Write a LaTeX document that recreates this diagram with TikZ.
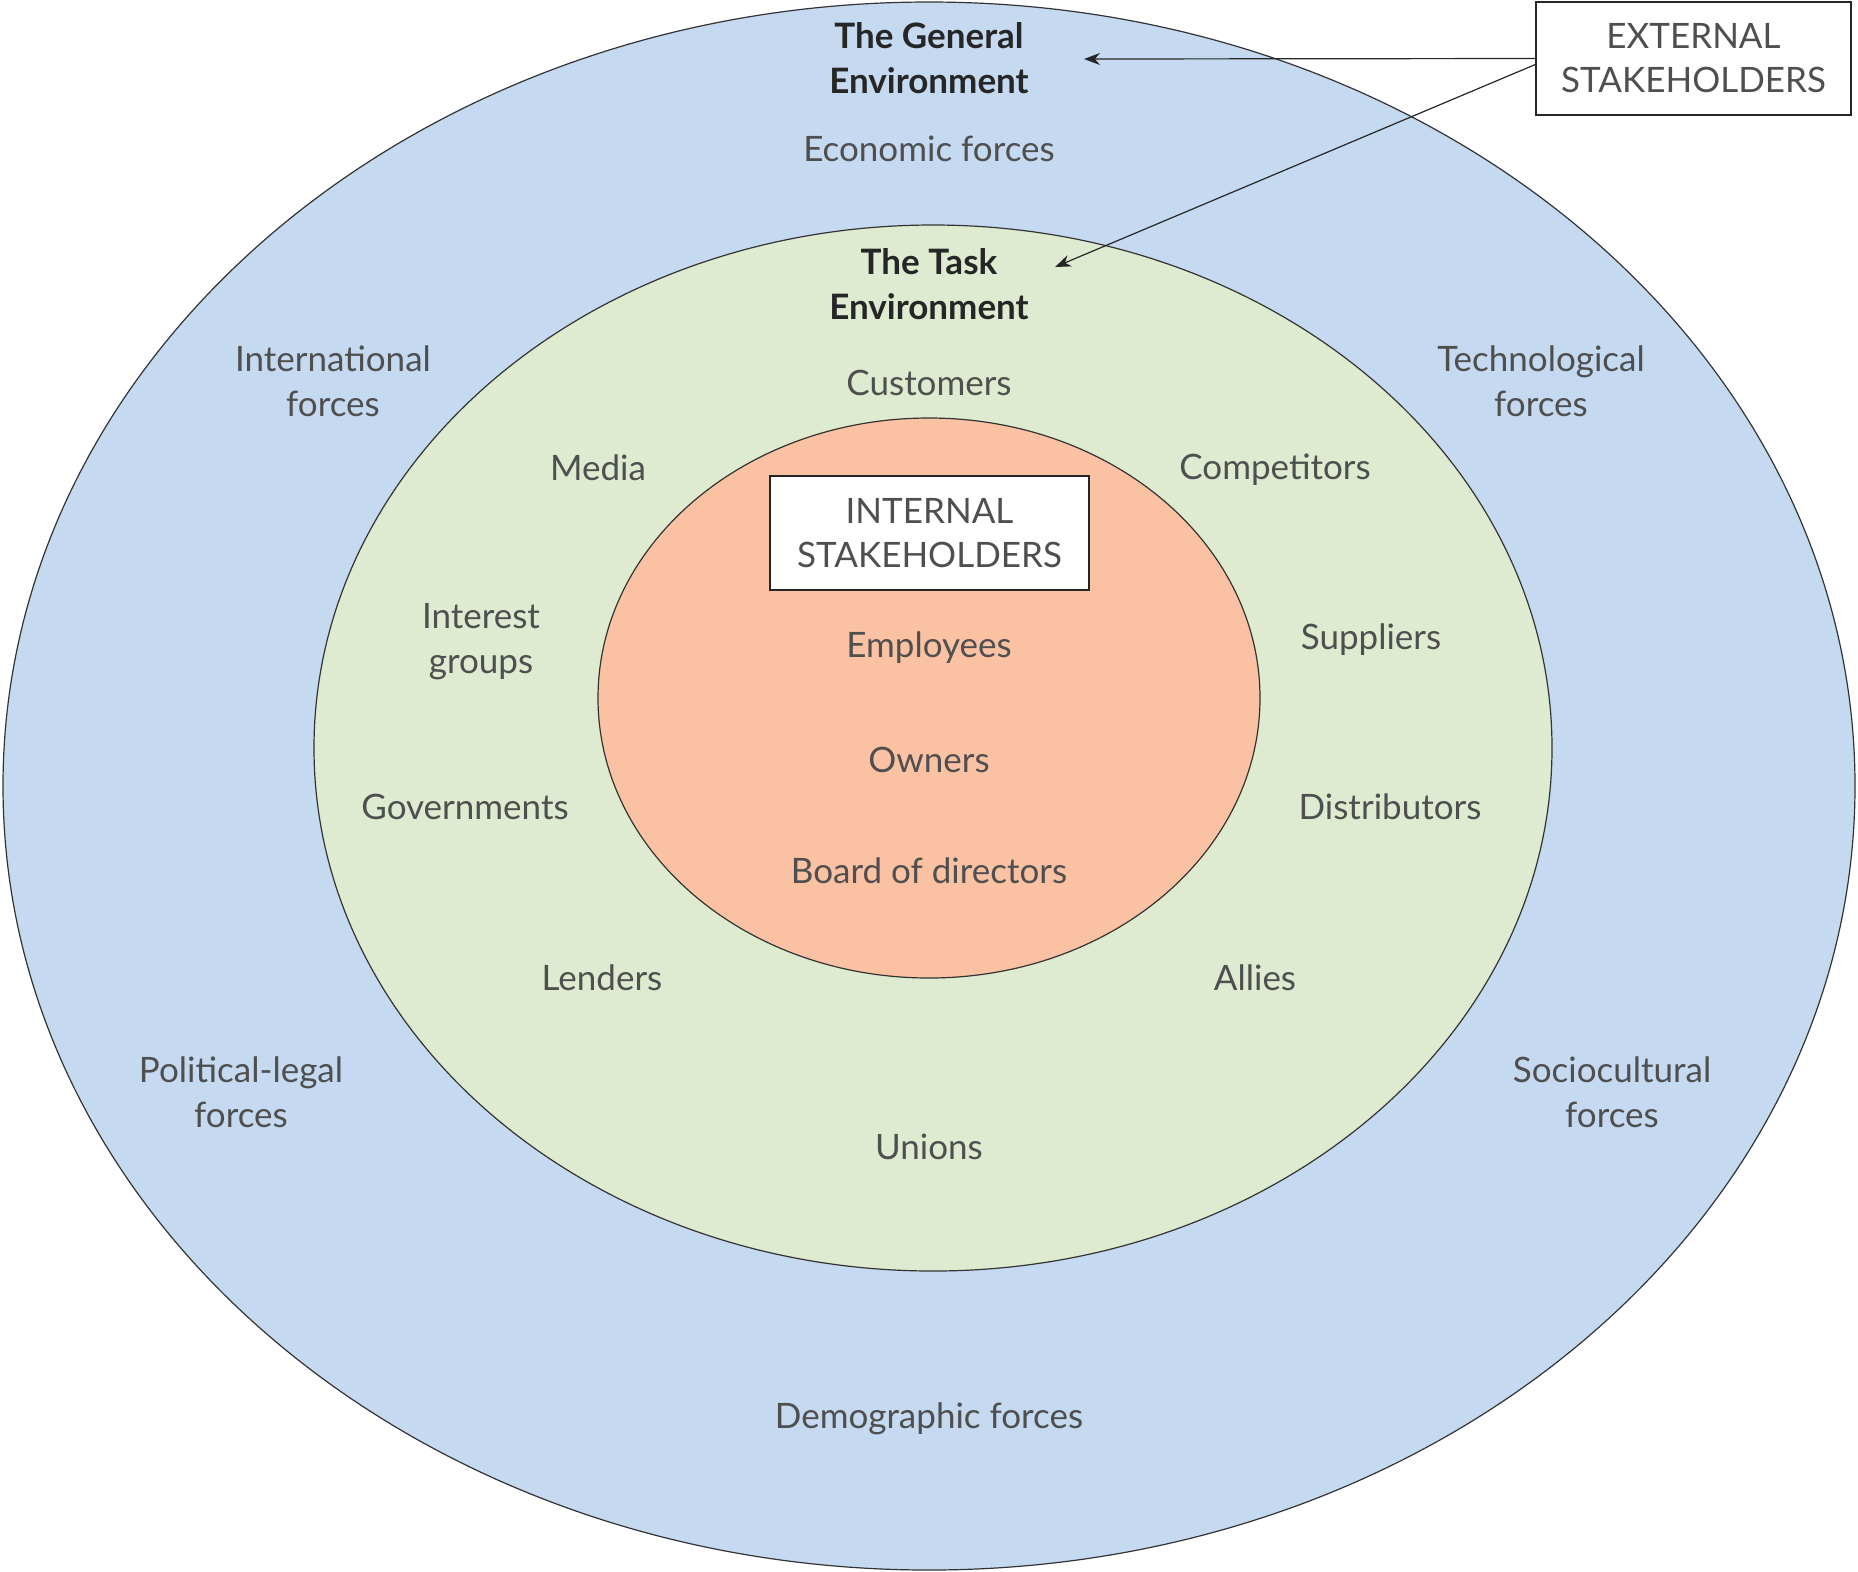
\documentclass[tikz,border=0pt]{standalone}
\usepackage{fontspec}
\setmainfont{Lato}
\usetikzlibrary{arrows.meta,shapes.geometric}
\definecolor{genblue}{HTML}{C5D9F0}
\definecolor{taskgreen}{HTML}{DEEBD0}
\definecolor{intorange}{HTML}{FBC1A3}
\definecolor{txtgray}{HTML}{4F4F4F}
\begin{document}
\begin{tikzpicture}[x=0.5pt,y=-0.5pt,
  ring/.style={ellipse,draw=black!80,line width=0.6pt,inner sep=0pt},
  lbl/.style={text=txtgray,align=center,font=\fontsize{17.5}{22.5}\selectfont},
  head/.style={text=black!85,align=center,font=\fontsize{17.5}{22.5}\selectfont\bfseries},
  sbox/.style={draw=black!85,fill=white,line width=0.7pt,align=center,text=txtgray,font=\fontsize{17.5}{22}\selectfont,inner sep=0pt},
  arr/.style={-{Stealth[length=8pt,width=6pt]},line width=0.6pt,draw=black!85}]
\useasboundingbox (0,0) rectangle (1858,1571);
\node[ring,fill=genblue,minimum width=926pt,minimum height=784pt] (gen) at (929,786) {};
\node[ring,fill=taskgreen,minimum width=619pt,minimum height=523pt] (task) at (933,748) {};
\node[ring,fill=intorange,minimum width=331pt,minimum height=280pt] (int) at (929,698) {};

\node[head] (genlbl) at (929,58) {The General\\Environment};
\node[lbl] (econ) at (929,149) {Economic forces};
\node[head] (tasklbl) at (929,284) {The Task\\Environment};
\node[lbl] (intl) at (333,381) {International\\forces};
\node[lbl] (tech) at (1541,381) {Technological\\forces};
\node[lbl] (cust) at (929,383) {Customers};
\node[lbl] (media) at (598,468) {Media};
\node[lbl] (comp) at (1275,470) {Competitors};
\node[lbl] (ig) at (481,642) {Interest\\groups};
\node[lbl] (supp) at (1371,640) {Suppliers};
\node[lbl] (emp) at (929,648) {Employees};
\node[lbl] (own) at (929,760) {Owners};
\node[lbl] (gov) at (465,807) {Governments};
\node[lbl] (dist) at (1390,807) {Distributors};
\node[lbl] (board) at (929,871) {Board of directors};
\node[lbl] (lend) at (602,978) {Lenders};
\node[lbl] (allies) at (1255,978) {Allies};
\node[lbl] (pol) at (241,1092) {Political-legal\\forces};
\node[lbl] (soc) at (1612,1092) {Sociocultural\\forces};
\node[lbl] (unions) at (929,1147) {Unions};
\node[lbl] (demo) at (929,1419) {Demographic forces};

\node[sbox,minimum width=159.5pt,minimum height=57pt] (intbox) at (929.5,533) {INTERNAL\\STAKEHOLDERS};
\node[sbox,minimum width=157.5pt,minimum height=56.5pt] (ext) at (1693.5,58.5) {EXTERNAL\\STAKEHOLDERS};

\coordinate (genarrow) at (1084,59);
\coordinate (taskarrow) at (1055,267);
\draw[arr] (ext.west) -- (genarrow);
\draw[arr] ([yshift=-3pt]ext.west) -- (taskarrow);
\end{tikzpicture}
\end{document}
